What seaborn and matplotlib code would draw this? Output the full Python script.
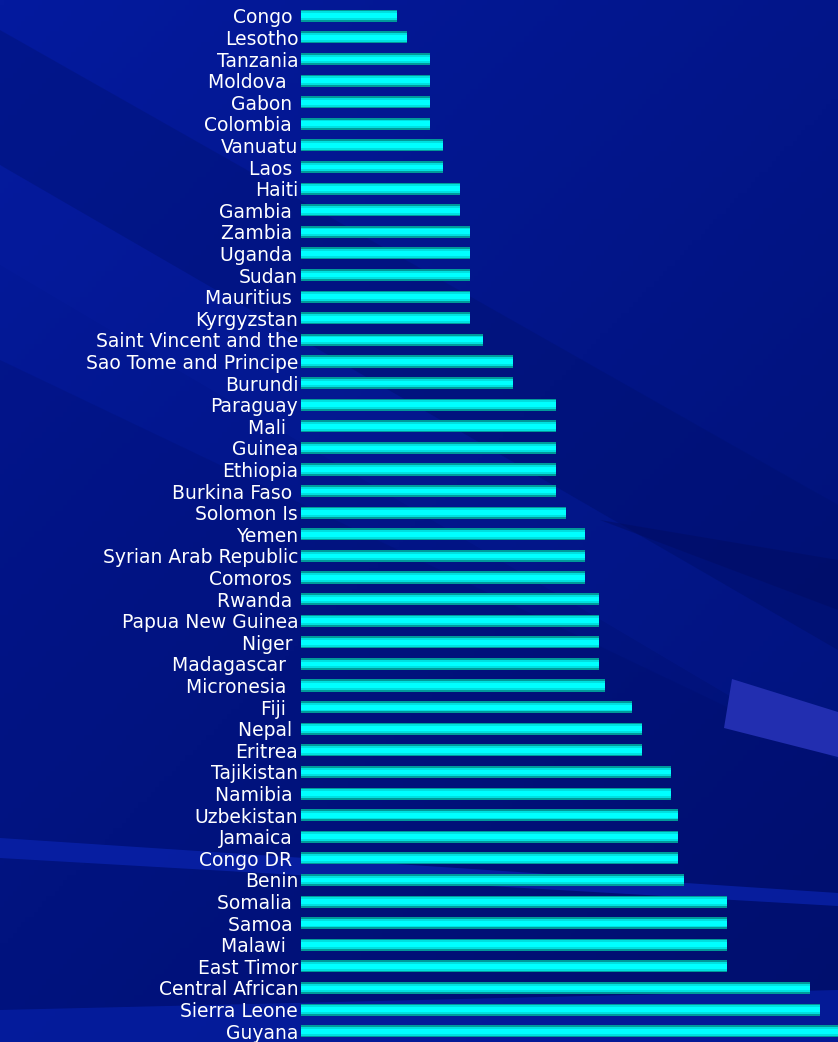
import numpy as np
import pandas as pd
import matplotlib
matplotlib.use("Agg")
import matplotlib.pyplot as plt
from matplotlib.patches import Polygon
import seaborn as sns

# country labels as shown (trailing spaces kept as in the source labels)
countries = [
    "Congo ", "Lesotho", "Tanzania", "Moldova  ", "Gabon ", "Colombia ",
    "Vanuatu", "Laos ", "Haiti", "Gambia ", "Zambia ", "Uganda ", "Sudan",
    "Mauritius ", "Kyrgyzstan", "Saint Vincent and the", "Sao Tome and Principe",
    "Burundi", "Paraguay", "Mali  ", "Guinea", "Ethiopia", "Burkina Faso ",
    "Solomon Is", "Yemen", "Syrian Arab Republic", "Comoros ", "Rwanda ",
    "Papua New Guinea", "Niger ", "Madagascar  ", "Micronesia  ", "Fiji  ",
    "Nepal ", "Eritrea", "Tajikistan", "Namibia ", "Uzbekistan", "Jamaica ",
    "Congo DR ", "Benin", "Somalia ", "Samoa ", "Malawi  ", "East Timor",
    "Central African", "Sierra Leone", "Guyana",
]
values = [
    96, 106, 129, 129, 129, 129,
    142, 142, 159, 159, 169, 169, 169,
    169, 169, 182, 212,
    212, 255, 255, 255, 255, 255,
    265, 284, 284, 284, 298,
    298, 298, 298, 304, 331,
    341, 341, 370, 370, 377, 377,
    377, 383, 426, 426, 426, 426,
    509, 519, 545,
]
x_max = 537

df = pd.DataFrame({"country": countries, "value": values})

W, H = 838, 1042
fig = plt.figure(figsize=(W / 100, H / 100), dpi=100)

# ---- decorative background -------------------------------------------
bg = fig.add_axes([0, 0, 1, 1])
bg.set_xlim(0, W)
bg.set_ylim(H, 0)
bg.axis("off")

gx, gy = np.meshgrid(np.linspace(0, 1, 200), np.linspace(0, 1, 200))
t = np.clip(0.45 * gx + 0.55 * gy, 0, 1)[..., None]
c_top = np.array([4, 26, 158]) / 255
c_bot = np.array([0, 16, 112]) / 255
grad = c_top * (1 - t) + c_bot * t
bg.imshow(grad, extent=[0, W, H, 0], aspect="auto", zorder=0)

shapes = [
    ([(0, 30), (0, 165), (838, 650), (838, 505)], "#00106c", 0.35),
    ([(0, 165), (0, 265), (838, 760), (838, 650)], "#0a22a8", 0.18),
    ([(0, 360), (0, 1042), (838, 1042), (838, 760)], "#000c66", 0.22),
    ([(838, 560), (600, 520), (838, 610)], "#000c60", 0.45),
    ([(0, 838), (0, 858), (838, 906), (838, 893)], "#0a24b0", 0.7),
    ([(0, 1010), (838, 990), (838, 1042), (0, 1042)], "#0620a8", 0.7),
    ([(732, 679), (838, 712), (838, 757), (724, 728)], "#222eb0", 1.0),
]
for pts, col, a in shapes:
    bg.add_patch(Polygon(pts, closed=True, facecolor=col, edgecolor="none",
                         alpha=a, zorder=1))

# ---- bar chart ---------------------------------------------------------
ax = fig.add_axes([301 / W, 0, (W - 301) / W, 1037 / H])
ax.set_facecolor("none")

sns.barplot(data=df, x="value", y="country", orient="h", color="#009a9a",
            width=0.56, saturation=1, ax=ax, zorder=2)
sns.barplot(data=df, x="value", y="country", orient="h", color="#00e0e0",
            width=0.40, saturation=1, ax=ax, zorder=3)
sns.barplot(data=df, x="value", y="country", orient="h", color="#00ffff",
            width=0.22, saturation=1, ax=ax, zorder=4)

ax.set_xlim(0, x_max)
ax.set_ylim(len(countries) - 0.5, -0.5)
ax.set_xlabel("")
ax.set_ylabel("")
ax.set_xticks([])
for spine in ax.spines.values():
    spine.set_visible(False)
ax.tick_params(axis="y", length=0, pad=2, labelsize=13.5, labelcolor="white")
for lbl in ax.get_yticklabels():
    lbl.set_family("DejaVu Sans")

fig.savefig("out.png", dpi=100)
